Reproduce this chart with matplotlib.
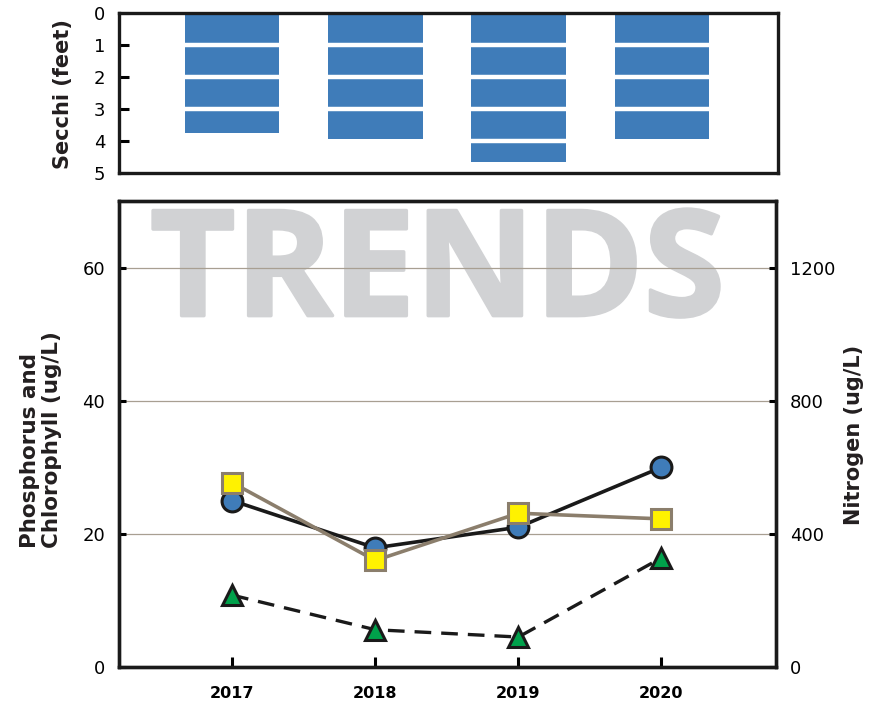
import numpy as np
import matplotlib
matplotlib.use("Agg")
import matplotlib.pyplot as plt
import matplotlib.patheffects as pe

# Lake water quality trends by year
years = ["2017", "2018", "2019", "2020"]
secchi_ft = [3.75, 3.95, 4.65, 3.95]
phosphorus = [25.0, 17.9, 21.0, 30.0]
chlorophyll = [10.8, 5.6, 4.5, 16.4]
nitrogen = [554, 320, 462, 445]

blue = "#3f7cb9"
yellow = "#fff200"
taupe = "#8b7e6c"
green = "#00a14b"
grid_col = "#a89f92"
wm_col = "#d1d2d4"

plt.rcParams["font.family"] = "DejaVu Sans"

fig = plt.figure(figsize=(8.84, 7.02), dpi=100)
x = np.arange(len(years))

# ---- Secchi depth panel ----
ax_s = fig.add_axes([119 / 884, 1 - 173 / 702, 659 / 884, 160 / 702])
bar_w = 0.66
ax_s.bar(x, secchi_ft, width=bar_w, color=blue, align="center", zorder=2)
for xi, depth in zip(x, secchi_ft):
    for d in range(1, int(np.ceil(depth))):
        ax_s.hlines(d, xi - bar_w / 2, xi + bar_w / 2, color="white", lw=3.2, zorder=3)
ax_s.set_xlim(-0.79, 3.81)
ax_s.set_ylim(5, 0)
ax_s.set_yticks(range(6))
ax_s.set_xticks([])
ax_s.tick_params(axis="y", direction="in", length=7, width=2.2, pad=10, labelsize=13)
for sp in ax_s.spines.values():
    sp.set_linewidth(2.4)
    sp.set_color("#1a1a1a")
fig.text(63 / 884, 1 - 94 / 702, "Secchi (feet)", rotation=90, ha="center", va="center",
         fontsize=15, fontweight="bold", color="#231f20")

# ---- Nutrients panel ----
ax = fig.add_axes([119 / 884, 1 - 667 / 702, 657 / 884, 466 / 702])
ax.set_xlim(-0.79, 3.8)
ax.set_ylim(0, 70)
ax.set_yticks([0, 20, 40, 60])
ax.set_xticks(x)
ax.set_xticklabels(years, fontweight="bold", fontsize=11.5)
ax.tick_params(axis="y", direction="in", length=5, width=2.2, pad=10, labelsize=13)
ax.tick_params(axis="x", direction="in", length=7, width=2.2, pad=14)
for v in [20, 40, 60]:
    ax.axhline(v, color=grid_col, lw=0.9, zorder=1)
for sp in ax.spines.values():
    sp.set_linewidth(2.4)
    sp.set_color("#1a1a1a")

# big faded watermark behind the data
ax.text(0.485, 0.754, "TRENDS", transform=ax.transAxes, ha="center", va="baseline",
        fontsize=106, fontweight="bold", family="Open Sans", color=wm_col, zorder=0.5,
        path_effects=[pe.Stroke(linewidth=2.5, foreground=wm_col), pe.Normal()])

ax.plot(x, phosphorus, color="#1a1a1a", lw=2.6, marker="o", ms=15,
        mfc=blue, mec="#1a1a1a", mew=2.2, zorder=4)
ax.plot(x, chlorophyll, color="#1a1a1a", lw=2.4, ls=(0, (5, 3)), marker="^", ms=15,
        mfc=green, mec="#1a1a1a", mew=2.2, zorder=4)

ax2 = ax.twinx()
ax2.set_ylim(0, 1400)
ax2.set_yticks([0, 400, 800, 1200])
ax2.tick_params(axis="y", direction="in", length=5, width=2.2, pad=10, labelsize=13)
for sp in ax2.spines.values():
    sp.set_linewidth(2.4)
    sp.set_color("#1a1a1a")
ax2.plot(x, nitrogen, color=taupe, lw=2.6, marker="s", ms=14,
         mfc=yellow, mec=taupe, mew=2.2, zorder=4)

fig.text(41 / 884, 1 - 440 / 702, "Phosphorus and\nChlorophyll (ug/L)", rotation=90,
         ha="center", va="center", multialignment="left", fontsize=15.5,
         fontweight="bold", color="#231f20", linespacing=1.15)
fig.text(854 / 884, 1 - 435 / 702, "Nitrogen (ug/L)", rotation=90, ha="center",
         va="center", fontsize=15, fontweight="bold", color="#231f20")

fig.savefig("out.png", dpi=100)
